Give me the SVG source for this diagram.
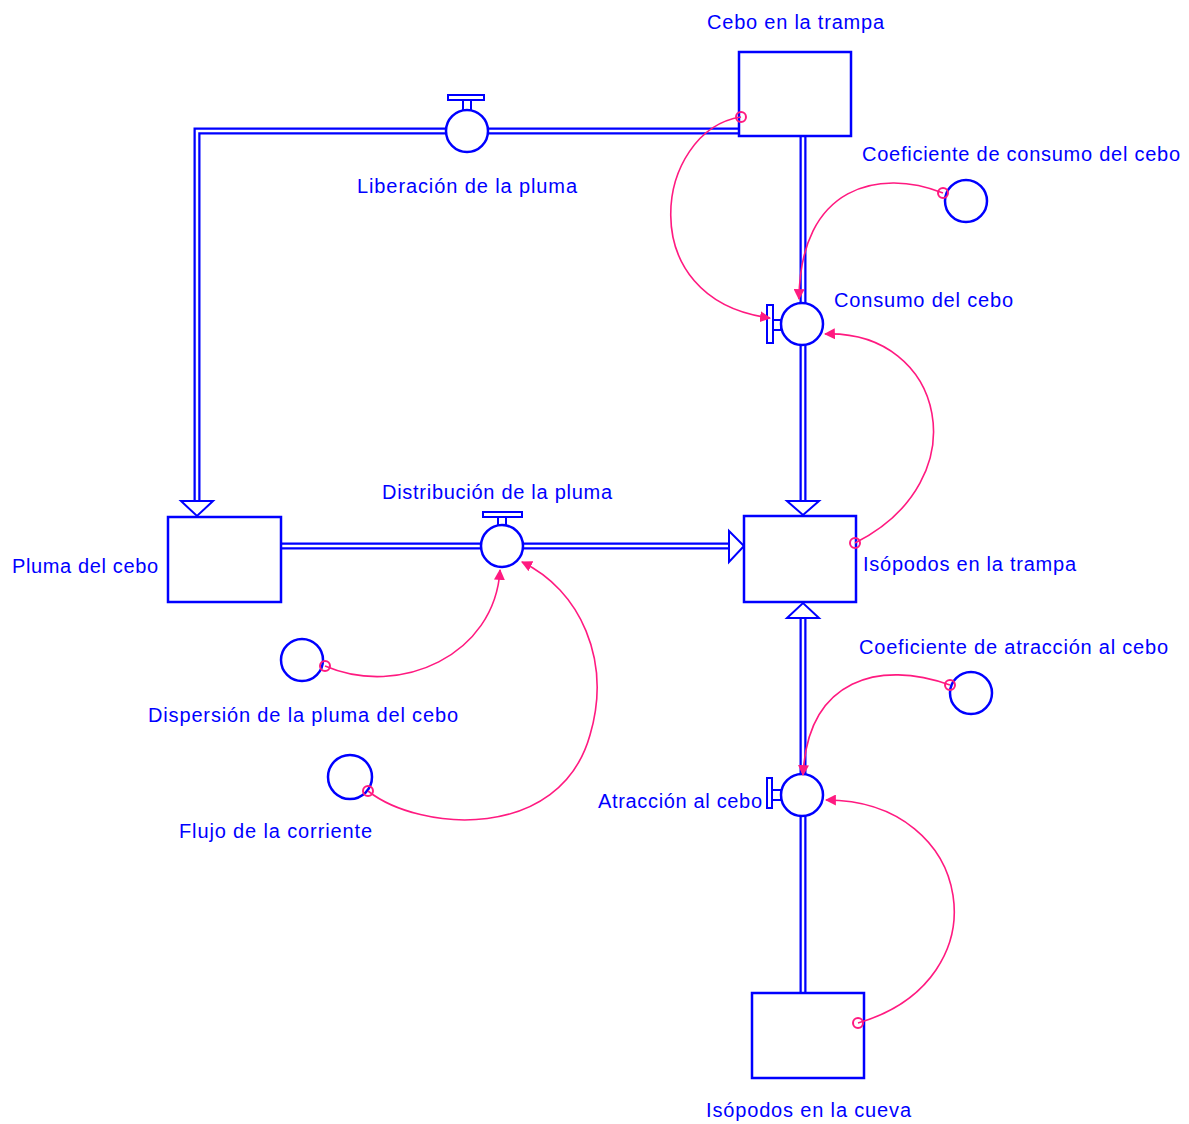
<svg xmlns="http://www.w3.org/2000/svg" width="1189" height="1124" viewBox="0 0 1189 1124">
<style>
.stock{fill:#fff;stroke:#0000ff;stroke-width:2.5}
.pipeo{fill:none;stroke:#0000ff;stroke-width:7}
.pipei{fill:none;stroke:#fff;stroke-width:2.5}
.head{fill:#fff;stroke:#0000ff;stroke-width:2}
.valve{fill:#fff;stroke:#0000ff;stroke-width:2.5}
.vbar{fill:#fff;stroke:#0000ff;stroke-width:2}
.aux{fill:#fff;stroke:#0000ff;stroke-width:2.5}
.link{fill:none;stroke:#ff1a80;stroke-width:1.6}
.org{fill:none;stroke:#ff1a80;stroke-width:2}
text{font-family:"Liberation Sans",Arial,sans-serif;font-size:20px;fill:#0000ff}
</style>
<defs>
<marker id="ah" viewBox="0 0 10 10" refX="9" refY="5" markerWidth="11" markerHeight="11" markerUnits="userSpaceOnUse" orient="auto">
<path d="M0,0 L10,5 L0,10 z" fill="#ff1a80"/>
</marker>
</defs>
<rect width="1189" height="1124" fill="#fff"/>
<g id="pipes">
<path class="pipeo" d="M739,131 L197,131 L197,501"/>
<path class="pipei" d="M739,131 L197,131 L197,503"/>
<polygon class="head" points="181,501 213,501 197,516"/>
<path class="pipeo" d="M803,137 L803,501"/>
<path class="pipei" d="M803,136 L803,503"/>
<polygon class="head" points="787,501 819,501 803,515"/>
<path class="pipeo" d="M281,546 L729,546"/>
<path class="pipei" d="M280,546 L731,546"/>
<polygon class="head" points="729,531 729,562 744,546"/>
<path class="pipeo" d="M803,993 L803,617"/>
<path class="pipei" d="M803,994 L803,615"/>
<polygon class="head" points="787,618 819,618 803,603"/>
</g>
<g id="cebo_trampa">
<rect class="stock" x="739" y="52" width="112" height="84"/>
<text x="707" y="29" textLength="177">Cebo en la trampa</text>
</g>
<g id="pluma_cebo">
<rect class="stock" x="168" y="517" width="113" height="85"/>
<text x="12" y="573" textLength="146">Pluma del cebo</text>
</g>
<g id="isopodos_trampa">
<rect class="stock" x="744" y="516" width="112" height="86"/>
<text x="863" y="571" textLength="213">Isópodos en la trampa</text>
</g>
<g id="isopodos_cueva">
<rect class="stock" x="752" y="993" width="112" height="85"/>
<text x="706" y="1117" textLength="205">Isópodos en la cueva</text>
</g>
<g id="liberacion">
<rect class="vbar" x="463" y="100" width="8" height="10"/>
<rect class="vbar" x="448" y="95" width="36" height="5"/>
<circle class="valve" cx="467" cy="131" r="21"/>
<text x="357" y="193" textLength="220">Liberación de la pluma</text>
</g>
<g id="distribucion">
<rect class="vbar" x="498" y="517" width="8" height="8"/>
<rect class="vbar" x="483" y="512" width="39" height="5"/>
<circle class="valve" cx="502" cy="546" r="21"/>
<text x="382" y="499" textLength="230">Distribución de la pluma</text>
</g>
<g id="consumo">
<rect class="vbar" x="773" y="320" width="8" height="10"/>
<rect class="vbar" x="767" y="305" width="6" height="38"/>
<circle class="valve" cx="802" cy="324" r="21"/>
<text x="834" y="307" textLength="179">Consumo del cebo</text>
</g>
<g id="atraccion">
<rect class="vbar" x="772" y="790" width="9" height="10"/>
<rect class="vbar" x="767" y="778" width="5" height="30"/>
<circle class="valve" cx="802" cy="795" r="21"/>
<text x="598" y="808" textLength="164">Atracción al cebo</text>
</g>
<g id="coef_consumo">
<circle class="aux" cx="966" cy="201" r="21"/>
<text x="862" y="161" textLength="318">Coeficiente de consumo del cebo</text>
</g>
<g id="coef_atraccion">
<circle class="aux" cx="971" cy="693" r="21"/>
<text x="859" y="654" textLength="309">Coeficiente de atracción al cebo</text>
</g>
<g id="dispersion">
<circle class="aux" cx="302" cy="660" r="21"/>
<text x="148" y="722" textLength="310">Dispersión de la pluma del cebo</text>
</g>
<g id="flujo">
<circle class="aux" cx="350" cy="777" r="22"/>
<text x="179" y="838" textLength="193">Flujo de la corriente</text>
</g>
<g id="connectors">
<path class="link" marker-end="url(#ah)" d="M741,117 C655,130 630,300 770,318"/>
<path class="link" marker-end="url(#ah)" d="M943,193 C880,168 800,185 799,299"/>
<path class="link" marker-end="url(#ah)" d="M855,543 C980,480 945,330 825,334"/>
<path class="link" marker-end="url(#ah)" d="M325,666 C400,698 495,655 500,570"/>
<path class="link" marker-end="url(#ah)" d="M368,791 C420,832 560,842 590,735 C612,660 580,590 522,562"/>
<path class="link" marker-end="url(#ah)" d="M950,685 C880,660 808,678 803,775"/>
<path class="link" marker-end="url(#ah)" d="M858,1023 C1005,980 975,800 826,800"/>
<circle class="org" cx="741" cy="117" r="5"/>
<circle class="org" cx="943" cy="193" r="5"/>
<circle class="org" cx="855" cy="543" r="5"/>
<circle class="org" cx="325" cy="666" r="5"/>
<circle class="org" cx="368" cy="791" r="5"/>
<circle class="org" cx="950" cy="685" r="5"/>
<circle class="org" cx="858" cy="1023" r="5"/>
</g>
</svg>
